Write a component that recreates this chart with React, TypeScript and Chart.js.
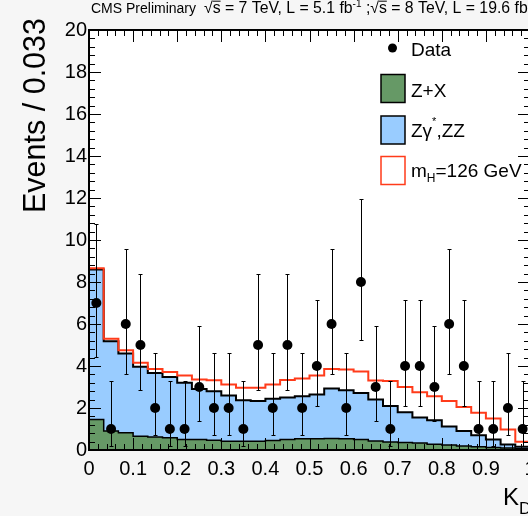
import React, { useEffect, useRef } from "react";
import { Chart, registerables } from "chart.js";

Chart.register(...registerables);

// ---------- data ----------
const binWidth = 1 / 30;
// Z+X (green) per bin
const zxValues = [1.45, 0.9, 0.82, 0.66, 0.62, 0.58, 0.5, 0.5, 0.47, 0.42, 0.42, 0.42, 0.45, 0.5, 0.53, 0.54, 0.55, 0.54, 0.5, 0.43, 0.38, 0.36, 0.33, 0.27, 0.24, 0.19, 0.16, 0.12, 0.1, 0.06];
// Z+X + Zgamma*,ZZ (stacked background total, blue top)
const bkgTotal = [8.6, 5.18, 4.6, 3.96, 3.67, 3.48, 3.2, 2.91, 2.8, 2.6, 2.37, 2.33, 2.44, 2.5, 2.56, 2.64, 2.93, 2.85, 2.72, 2.4, 2.09, 1.8, 1.55, 1.42, 1.12, 0.9, 0.7, 0.5, 0.26, 0.16];
// background + mH=126 GeV signal (red outline)
const sigTotal = [8.65, 5.3, 4.75, 4.15, 3.86, 3.72, 3.55, 3.36, 3.32, 3.12, 2.96, 2.96, 3.12, 3.33, 3.4, 3.55, 3.86, 3.83, 3.74, 3.31, 3.28, 3.0, 2.75, 2.56, 2.33, 2.05, 1.77, 1.5, 0.98, 0.39];
// observed data
const dataCounts = [7, 1, 6, 5, 2, 1, 1, 3, 2, 2, 1, 5, 2, 5, 2, 4, 6, 2, 8, 3, 1, 4, 4, 3, 6, 4, 1, 1, 2, 1];
const dataLow = [4.42, 0.17, 3.62, 2.84, 0.71, 0.17, 0.17, 1.37, 0.71, 0.71, 0.17, 2.84, 0.71, 2.84, 0.71, 2.09, 3.62, 0.71, 5.23, 1.37, 0.17, 2.09, 2.09, 1.37, 3.62, 2.09, 0.17, 0.17, 0.71, 0.17];
const dataHigh = [10.77, 3.3, 9.58, 8.38, 4.64, 3.3, 3.3, 5.92, 4.64, 4.64, 3.3, 8.38, 4.64, 8.38, 4.64, 7.16, 9.58, 4.64, 11.95, 5.92, 3.3, 7.16, 7.16, 5.92, 9.58, 7.16, 3.3, 3.3, 4.64, 3.3];

const xMin = 0;
const xMax = 1;
const yMin = 0;
const yMax = 20;

const FONT = "'Liberation Sans', Arial, Helvetica, sans-serif";
const GREEN = "#669966";
const BLUE = "#99ccff";
const RED = "#ff3b1a";

function histPoints(values: number[]) {
  const pts = values.map((v, i) => ({ x: i * binWidth, y: v }));
  pts.push({ x: values.length * binWidth, y: values[values.length - 1] });
  return pts;
}

type Part = { t: string; size: number; dy?: number; over?: boolean };

function drawRich(ctx: CanvasRenderingContext2D, x: number, y: number, parts: Part[]) {
  let cx = x;
  for (const p of parts) {
    ctx.font = `${p.size}px ${FONT}`;
    const w = ctx.measureText(p.t).width;
    ctx.fillText(p.t, cx, y + (p.dy || 0));
    if (p.over) {
      ctx.save();
      ctx.lineWidth = 1;
      ctx.beginPath();
      ctx.moveTo(cx, y - p.size * 0.78 + 0.5);
      ctx.lineTo(cx + w, y - p.size * 0.78 + 0.5);
      ctx.stroke();
      ctx.restore();
    }
    cx += w;
  }
  return cx;
}

const decorPlugin = {
  id: "decor",
  beforeDraw(chart: any) {
    const { ctx, chartArea: a, width, height } = chart;
    ctx.save();
    ctx.fillStyle = "#f6f6f6";
    ctx.fillRect(0, 0, width, height);
    ctx.fillStyle = "#ffffff";
    ctx.fillRect(a.left, a.top, a.right - a.left, a.bottom - a.top);
    ctx.restore();
  },
  afterDatasetsDraw(chart: any) {
    const { ctx } = chart;
    const xs = chart.scales.x;
    const ys = chart.scales.y;
    ctx.save();
    ctx.strokeStyle = "#000";
    ctx.lineWidth = 1;
    dataCounts.forEach((_, i) => {
      const px = Math.round(xs.getPixelForValue((i + 0.5) * binWidth)) + 0.5;
      const yl = Math.round(ys.getPixelForValue(dataLow[i])) + 0.5;
      const yh = Math.round(ys.getPixelForValue(dataHigh[i])) + 0.5;
      ctx.beginPath();
      ctx.moveTo(px, yl);
      ctx.lineTo(px, yh);
      ctx.moveTo(px - 2, yl);
      ctx.lineTo(px + 2, yl);
      ctx.moveTo(px - 2, yh);
      ctx.lineTo(px + 2, yh);
      ctx.stroke();
    });
    ctx.restore();
  },
  afterDraw(chart: any) {
    const { ctx, chartArea: a } = chart;
    const xs = chart.scales.x;
    const ys = chart.scales.y;
    ctx.save();
    // ticks (inside the frame, on all four sides)
    ctx.strokeStyle = "#000";
    ctx.lineWidth = 1;
    ctx.beginPath();
    for (let k = 0; k <= 50; k++) {
      const v = yMin + k * 0.4;
      const py = Math.round(ys.getPixelForValue(v)) + 0.5;
      const len = k % 5 === 0 ? 12 : 6;
      ctx.moveTo(a.left, py);
      ctx.lineTo(a.left + len, py);
      ctx.moveTo(a.right, py);
      ctx.lineTo(a.right - len, py);
    }
    for (let k = 0; k <= 50; k++) {
      const v = xMin + k * 0.02;
      const px = Math.round(xs.getPixelForValue(v)) + 0.5;
      const len = k % 5 === 0 ? 12 : 6;
      ctx.moveTo(px, a.bottom);
      ctx.lineTo(px, a.bottom - len);
      ctx.moveTo(px, a.top);
      ctx.lineTo(px, a.top + len);
    }
    ctx.stroke();
    // frame
    ctx.lineWidth = 2;
    ctx.strokeRect(a.left, a.top, a.right - a.left, a.bottom - a.top);

    // header
    ctx.fillStyle = "#000";
    ctx.textBaseline = "alphabetic";
    ctx.textAlign = "left";
    drawRich(ctx, 91, 13, [{ t: "CMS Preliminary", size: 14 }]);
    drawRich(ctx, 204, 13, [
      { t: "\u221A", size: 15.8 },
      { t: "s", size: 15.8, over: true },
      { t: " = 7 TeV, L = 5.1 fb", size: 15.8 },
      { t: "-1", size: 10, dy: -6 },
      { t: " ;", size: 15.8 },
      { t: "\u221A", size: 15.8 },
      { t: "s", size: 15.8, over: true },
      { t: " = 8 TeV, L = 19.6 fb", size: 15.8 },
      { t: "-1", size: 10, dy: -6 },
    ]);

    // legend
    ctx.beginPath();
    ctx.arc(392.5, 48, 4.5, 0, Math.PI * 2);
    ctx.fill();
    drawRich(ctx, 411, 56, [{ t: "Data", size: 19 }]);

    ctx.lineWidth = 1.5;
    ctx.fillStyle = GREEN;
    ctx.fillRect(381, 74.5, 24, 28);
    ctx.strokeStyle = "#000";
    ctx.strokeRect(381, 74.5, 24, 28);
    ctx.fillStyle = BLUE;
    ctx.fillRect(381, 116, 24, 28);
    ctx.strokeRect(381, 116, 24, 28);
    ctx.fillStyle = "#fff";
    ctx.fillRect(381, 156.5, 24, 28);
    ctx.strokeStyle = RED;
    ctx.strokeRect(381, 156.5, 24, 28);

    ctx.fillStyle = "#000";
    drawRich(ctx, 411, 97, [{ t: "Z+X", size: 19 }]);
    drawRich(ctx, 411, 137, [
      { t: "Z\u03B3", size: 19 },
      { t: "*", size: 11, dy: -12 },
      { t: ",ZZ", size: 19 },
    ]);
    drawRich(ctx, 411, 177, [
      { t: "m", size: 19 },
      { t: "H", size: 12, dy: 5 },
      { t: "=126 GeV", size: 19 },
    ]);

    // axis titles
    drawRich(ctx, 503, 505, [
      { t: "K", size: 24 },
      { t: "D", size: 17, dy: 9 },
    ]);
    ctx.save();
    ctx.translate(45, 18);
    ctx.rotate(-Math.PI / 2);
    ctx.textAlign = "right";
    ctx.font = `30.5px ${FONT}`;
    ctx.fillText("Events / 0.033", 0, 0);
    ctx.restore();

    ctx.restore();
  },
};

export default function App() {
  const ref = useRef<HTMLCanvasElement | null>(null);
  useEffect(() => {
    if (!ref.current) return;
    const chart = new Chart(ref.current, {
      type: "line",
      data: {
        datasets: [
          {
            label: "Data",
            data: dataCounts.map((n, i) => ({ x: (i + 0.5) * binWidth, y: n })),
            showLine: false,
            pointRadius: 5,
            pointHoverRadius: 5,
            pointBackgroundColor: "#000",
            pointBorderWidth: 0,
            borderColor: "#000",
            order: 0,
          },
          {
            label: "mH=126 GeV",
            data: histPoints(sigTotal),
            stepped: "before",
            borderColor: RED,
            borderWidth: 2,
            pointRadius: 0,
            fill: false,
            order: 1,
          },
          {
            label: "Z+X",
            data: histPoints(zxValues),
            stepped: "before",
            borderColor: "#000",
            borderWidth: 1.5,
            backgroundColor: GREEN,
            pointRadius: 0,
            fill: "origin",
            order: 2,
          },
          {
            label: "Zgamma*,ZZ",
            data: histPoints(bkgTotal),
            stepped: "before",
            borderColor: "#000",
            borderWidth: 2,
            backgroundColor: BLUE,
            pointRadius: 0,
            fill: "origin",
            order: 3,
          },
        ],
      },
      options: {
        animation: false,
        responsive: false,
        devicePixelRatio: 1,
        layout: { padding: { top: 30, right: 15, left: 0, bottom: 0 } },
        plugins: { legend: { display: false }, tooltip: { enabled: false }, title: { display: false } },
        events: [],
        scales: {
          x: {
            type: "linear",
            min: xMin,
            max: xMax,
            grid: { display: false, drawTicks: false },
            border: { display: false },
            afterFit: (s: any) => {
              s.height = 66;
            },
            ticks: {
              stepSize: 0.1,
              autoSkip: false,
              maxRotation: 0,
              padding: 7,
              color: "#000",
              font: { family: FONT, size: 20 },
              callback: (v: any) => {
                const r = Math.round(Number(v) * 10) / 10;
                return String(r);
              },
            },
          },
          y: {
            type: "linear",
            min: yMin,
            max: yMax,
            grid: { display: false, drawTicks: false },
            border: { display: false },
            afterFit: (s: any) => {
              s.width = 89;
            },
            ticks: {
              stepSize: 2,
              padding: 2,
              color: "#000",
              font: { family: FONT, size: 20 },
              callback: (v: any) => String(v),
            },
          },
        },
      },
      plugins: [decorPlugin],
    } as any);
    return () => chart.destroy();
  }, []);
  return (
    <div style={{ position: "fixed", left: 0, top: 0, width: 528, height: 516, overflow: "hidden", background: "#f6f6f6" }}>
      <canvas ref={ref} width={545} height={516} style={{ display: "block", width: 545, height: 516 }} />
    </div>
  );
}
